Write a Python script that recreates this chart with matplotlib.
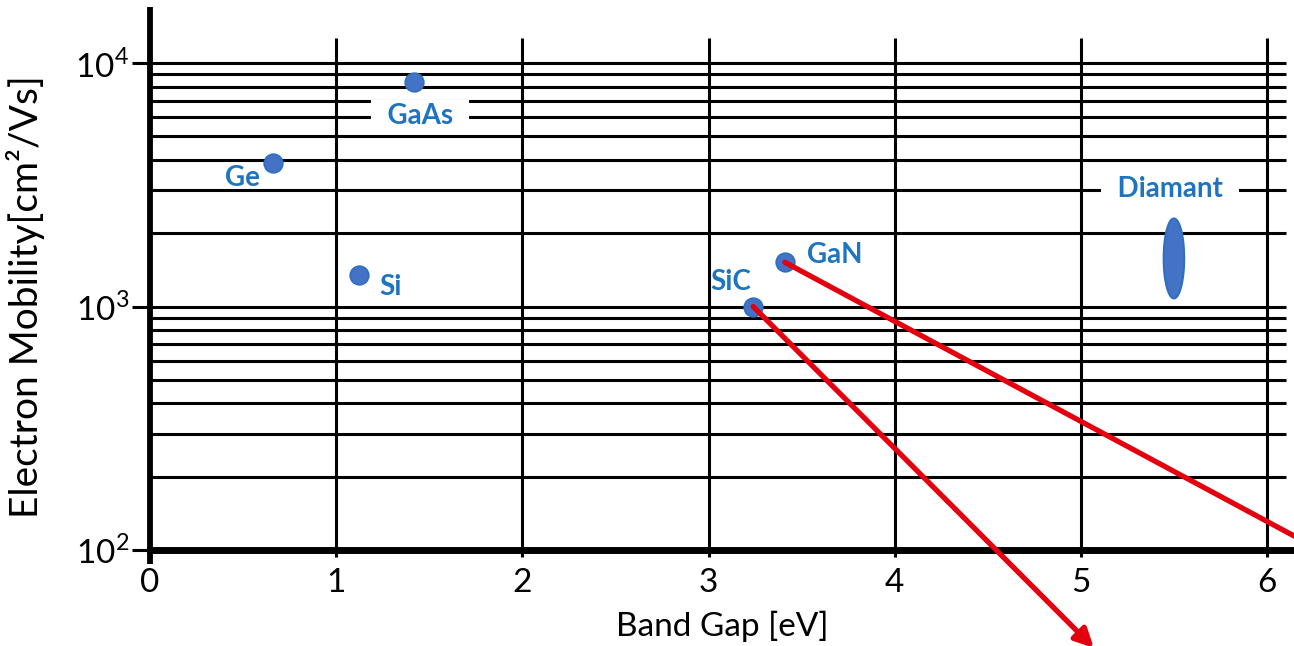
import numpy as np
import matplotlib
matplotlib.use("Agg")
from matplotlib import pyplot as plt

plt.rcParams['font.family'] = ['Lato', 'DejaVu Sans']
plt.rcParams['mathtext.fontset'] = 'custom'
plt.rcParams['mathtext.rm'] = 'Lato'

# materials: band gap [eV], electron mobility [cm^2/Vs]
materials = ["Ge", "Si", "GaAs", "SiC", "GaN"]
band_gap = [0.66, 1.12, 1.42, 3.24, 3.41]
mobility = [3900, 1350, 8400, 1000, 1520]

# diamond is given as a range of mobility
diamond_gap = 5.50
diamond_mu = (1080, 2300)

# arrow end points (off the chart) for SiC and GaN
arrow_from = ["SiC", "GaN"]
arrow_to_x = [5.07, 6.47]
arrow_to_y = [39.6, 84]

# grid
x_grid = [1, 2, 3, 4, 5, 6]
y_grid = [200, 300, 400, 500, 600, 700, 800, 900,
          1000, 2000, 3000, 4000, 5000, 6000, 7000, 8000, 9000, 10000]
y_ticks = [100, 1000, 10000]
y_ticklabels = ["10$^2$", "10$^3$", "10$^4$"]

# label offsets in points
label_offsets = {"Ge": (-22, -11), "Si": (23, -9), "GaAs": (4, -25),
                 "SiC": (-16, 18), "GaN": (36, 5)}

blue_fill = "#4472C4"
blue_edge = "#2E6FC0"
blue_text = "#1F74C0"
red = "#E3000F"

fig = plt.figure(figsize=(12.94, 6.46), dpi=100)
ax = fig.add_axes([150 / 1294, 96 / 646, 1144 / 1294, 543 / 646])
ax.set_yscale("log")
ax.set_xlim(0, 6.145)
ax.set_ylim(100, 17000)

ax.hlines(y_grid, 0, 6.1, color="black", lw=2.2, zorder=1)
ax.vlines(x_grid, 100, 12700, color="black", lw=2.2, zorder=1)

ax.scatter(band_gap, mobility, s=180, color=blue_fill, edgecolor=blue_edge,
           lw=1.2, zorder=3)

# diamond ellipse in (x, log y) space
t = np.linspace(0, 2 * np.pi, 200)
lo, hi = np.log10(diamond_mu[0]), np.log10(diamond_mu[1])
ex = diamond_gap + 0.055 * np.cos(t)
ey = 10 ** ((lo + hi) / 2 + (hi - lo) / 2 * np.sin(t))
ax.fill(ex, ey, color=blue_fill, ec=blue_edge, lw=1.5, zorder=3)

# white gap in the grid line behind labels sitting on a line
gap_box = dict(facecolor="white", edgecolor="none", boxstyle="square,pad=0.1")

for name, x, y in zip(materials, band_gap, mobility):
    text, box = name, None
    if name == "GaAs":
        text, box = "  " + name + "  ", gap_box
    ax.annotate(text, (x, y), xytext=label_offsets[name],
                textcoords="offset points", ha="center", va="center",
                fontsize=20, fontweight="bold", color=blue_text,
                bbox=box, zorder=4)

ax.annotate("  Diamant  ", (diamond_gap, np.sqrt(diamond_mu[0] * diamond_mu[1])),
            xytext=(-3, 50), textcoords="offset points", ha="center",
            va="center", fontsize=20, fontweight="bold", color=blue_text,
            bbox=gap_box, zorder=4)

for name, tx, ty in zip(arrow_from, arrow_to_x, arrow_to_y):
    i = materials.index(name)
    ax.annotate("", xy=(tx, ty), xytext=(band_gap[i], mobility[i]),
                arrowprops=dict(arrowstyle="-|>", color=red, lw=3.8,
                                mutation_scale=28, shrinkA=0, shrinkB=0),
                annotation_clip=False, zorder=5)

for side in ["top", "right"]:
    ax.spines[side].set_visible(False)
ax.spines["left"].set_linewidth(4.2)
ax.spines["bottom"].set_linewidth(5)
ax.spines["left"].set_bounds(88, 17000)
ax.spines["left"].set_capstyle("butt")

ax.set_yticks(y_ticks)
ax.set_yticklabels(y_ticklabels)
ax.yaxis.set_minor_locator(matplotlib.ticker.NullLocator())
ax.tick_params(axis="y", length=13, width=2.2, labelsize=24, pad=2)
ax.set_xticks(range(7))
ax.tick_params(axis="x", length=5, width=2.2, labelsize=24, pad=8)

ax.set_xlabel("Band Gap [eV]", fontsize=24, labelpad=9)
ax.set_ylabel("Electron Mobility[cm²/Vs]", fontsize=28)
ax.yaxis.set_label_coords(-0.092, 0.466)

fig.savefig("out.png", dpi=100)
